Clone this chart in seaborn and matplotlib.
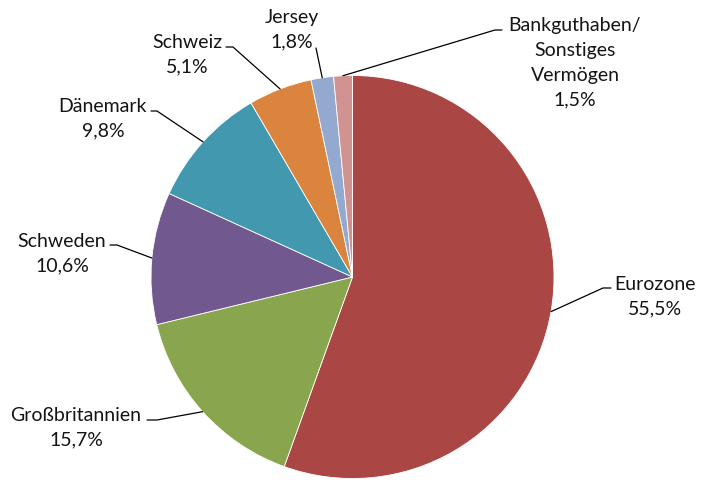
import matplotlib
matplotlib.use('Agg')
import matplotlib.pyplot as plt
from matplotlib.lines import Line2D
import seaborn as sns
import numpy as np

# data
regionen = ['Eurozone', 'Großbritannien', 'Schweden', 'Dänemark', 'Schweiz', 'Jersey',
            'Bankguthaben/\nSonstiges\nVermögen']
anteile = [55.5, 15.7, 10.6, 9.8, 5.1, 1.8, 1.5]
farben = ['#AA4643', '#89A54E', '#71588F', '#4198AF', '#DB843D', '#93A9CF', '#D19392']

# label layout (image pixels): text centre, leader start, leader elbow
text_pos = [(655, 297), (76, 428), (62, 254), (103, 119), (187, 55), (292, 30), (575, 63)]
leader_pos = [((611, 289), (603, 289)), ((147, 421), (157, 421)), ((110, 246), (117, 246)),
              ((151, 112), (157, 112)), ((226, 48), (233, 48)), ((316, 49), (316, 49)),
              ((502, 31), (495, 31))]

sns.set_theme(style='white')
plt.rcParams['font.family'] = ['Lato', 'DejaVu Sans']

W, H = 702, 481
fig = plt.figure(figsize=(W / 100, H / 100), dpi=100)
cx, cy, r = 352.5, 278, 201.5
ax = fig.add_axes([(cx - r) / W, (H - cy - r) / H, 2 * r / W, 2 * r / H])

wedges, _ = ax.pie(anteile, colors=farben, startangle=90, counterclock=False,
                   wedgeprops=dict(edgecolor='white', linewidth=0.6))
ax.set_xlim(-1, 1)
ax.set_ylim(-1, 1)
ax.axis('off')

fig.canvas.draw()
to_fig = fig.transFigure.inverted()

def px(p):
    return p[0] / W, 1 - p[1] / H

for i, w in enumerate(wedges):
    mid = np.deg2rad((w.theta1 + w.theta2) / 2)
    anchor = to_fig.transform(ax.transData.transform((np.cos(mid), np.sin(mid))))
    label = regionen[i] + '\n' + f'{anteile[i]:.1f}%'.replace('.', ',')
    tx, ty = px(text_pos[i])
    fig.text(tx, ty, label, ha='center', va='center', multialignment='center',
             fontsize=14, color='#141414', linespacing=1.55)
    p1, p2 = px(leader_pos[i][0]), px(leader_pos[i][1])
    fig.add_artist(Line2D([p1[0], p2[0], anchor[0]], [p1[1], p2[1], anchor[1]],
                          color='black', linewidth=0.9))

fig.savefig('out.png', dpi=100)
